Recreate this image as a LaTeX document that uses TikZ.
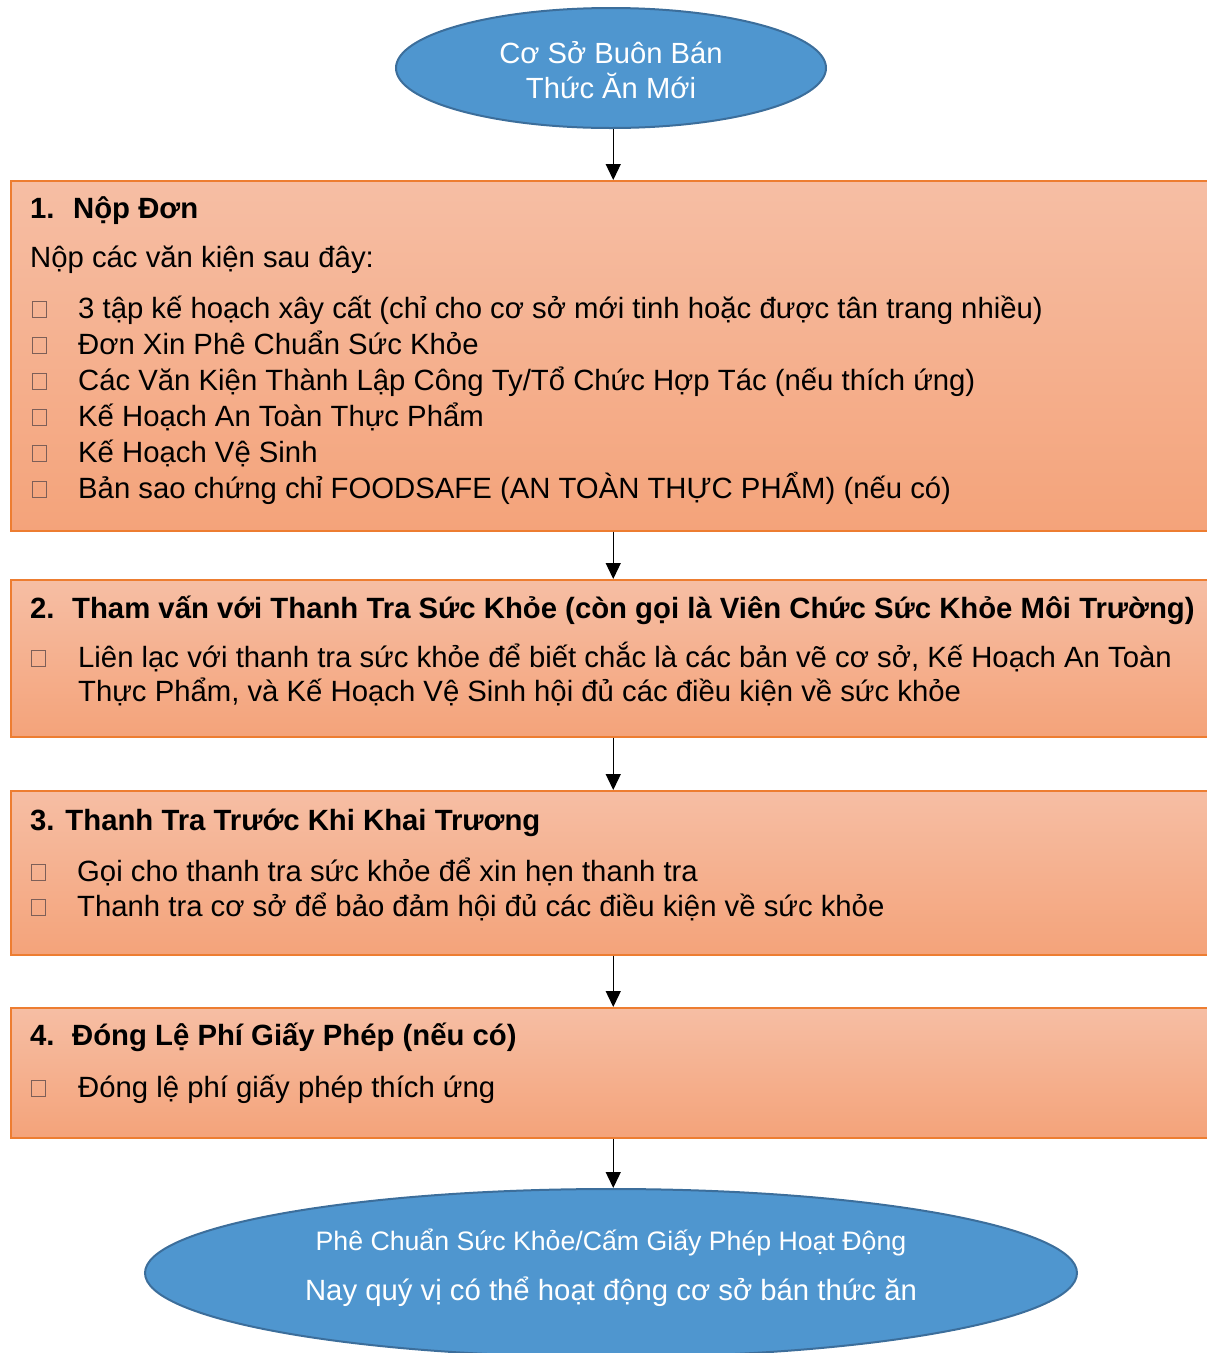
\documentclass[tikz,border=0pt]{standalone}
\usepackage{fontspec}
\setmainfont{Liberation Sans}
\usetikzlibrary{shapes.geometric,arrows.meta}
\definecolor{ellfill}{RGB}{79,150,207}
\definecolor{elldraw}{RGB}{60,110,155}
\definecolor{boxtop}{RGB}{246,190,164}
\definecolor{boxbot}{RGB}{244,163,122}
\definecolor{boxdraw}{RGB}{237,125,49}
\definecolor{bulletc}{RGB}{125,95,88}
\begin{document}
\begin{tikzpicture}[x=1pt,y=-1pt,
  stepbox/.style={rectangle, draw=boxdraw, line width=1.5pt, top color=boxtop, bottom color=boxbot, anchor=north west, inner sep=0, minimum width=1205pt},
  oval/.style={ellipse, draw=elldraw, line width=2pt, fill=ellfill, inner sep=0},
  txt/.style={anchor=base west, inner sep=0, font=\fontsize{29.3}{34}\selectfont},
  head/.style={anchor=base west, inner sep=0, font=\fontsize{29.3}{34}\selectfont\bfseries},
  wtxt/.style={anchor=base, inner sep=0, text=white},
  bul/.style={draw=bulletc, line width=0.9pt, minimum width=14pt, minimum height=16pt, inner sep=0, anchor=south west},
  conn/.style={-{Triangle[length=16pt,width=15pt]}, line width=1.3pt},
]
\clip (0,0) rectangle (1207,1353);
% top ellipse
\node[oval, minimum width=430pt, minimum height=120pt] (start) at (611,68) {};
\node[wtxt, font=\fontsize{29.2}{34}\selectfont] (s1) at (611,63) {Cơ Sở Buôn Bán};
\node[wtxt, font=\fontsize{29.2}{34}\selectfont] (s2) at (611,98) {Thức Ăn Mới};
% boxes
\node[stepbox, minimum height=350pt] (b1) at (10,180) {};
\node[stepbox, minimum height=157pt] (b2) at (10,579) {};
\node[stepbox, minimum height=164pt] (b3) at (10,790) {};
\node[stepbox, minimum height=130pt] (b4) at (10,1007) {};
% bottom ellipse
\node[oval, minimum width=932pt, minimum height=168pt] (fin) at (611,1273) {};
\node[wtxt, font=\fontsize{26.7}{32}\selectfont] (f1) at (611,1250) {Phê Chuẩn Sức Khỏe/Cấm Giấy Phép Hoạt Động};
\node[wtxt, font=\fontsize{29.3}{34}\selectfont] (f2) at (611,1300) {Nay quý vị có thể hoạt động cơ sở bán thức ăn};
% box 1 text
\node[head] (h1) at (30,218) {\makebox[43pt][l]{1.}Nộp Đơn};
\node[txt] (t1) at (30,267) {Nộp các văn kiện sau đây:};
\node[bul] (q11) at (32,318) {};
\node[txt] (t11) at (78,318) {3 tập kế hoạch xây cất (chỉ cho cơ sở mới tinh hoặc được tân trang nhiều)};
\node[bul] (q12) at (32,354) {};
\node[txt] (t12) at (78,354) {Đơn Xin Phê Chuẩn Sức Khỏe};
\node[bul] (q13) at (32,390) {};
\node[txt] (t13) at (78,390) {Các Văn Kiện Thành Lập Công Ty/Tổ Chức Hợp Tác (nếu thích ứng)};
\node[bul] (q14) at (32,426) {};
\node[txt] (t14) at (78,426) {Kế Hoạch An Toàn Thực Phẩm};
\node[bul] (q15) at (32,462) {};
\node[txt] (t15) at (78,462) {Kế Hoạch Vệ Sinh};
\node[bul] (q16) at (32,498) {};
\node[txt] (t16) at (78,498) {Bản sao chứng chỉ FOODSAFE (AN TOÀN THỰC PHẨM) (nếu có)};
% box 2 text
\node[head] (h2) at (30,618) {\makebox[42pt][l]{2.}Tham vấn với Thanh Tra Sức Khỏe (còn gọi là Viên Chức Sức Khỏe Môi Trường)};
\node[bul] (q21) at (31,667) {};
\node[txt] (t21) at (78,667) {Liên lạc với thanh tra sức khỏe để biết chắc là các bản vẽ cơ sở, Kế Hoạch An Toàn};
\node[txt] (t22) at (78,701) {Thực Phẩm, và Kế Hoạch Vệ Sinh hội đủ các điều kiện về sức khỏe};
% box 3 text
\node[head] (h3) at (30,830) {3. Thanh Tra Trước Khi Khai Trương};
\node[bul] (q31) at (31,881) {};
\node[txt] (t31) at (77,881) {Gọi cho thanh tra sức khỏe để xin hẹn thanh tra};
\node[bul] (q32) at (31,916) {};
\node[txt] (t32) at (77,916) {Thanh tra cơ sở để bảo đảm hội đủ các điều kiện về sức khỏe};
% box 4 text
\node[head] (h4) at (30,1045) {\makebox[42pt][l]{4.}Đóng Lệ Phí Giấy Phép (nếu có)};
\node[bul] (q41) at (31,1097) {};
\node[txt] (t41) at (78,1097) {Đóng lệ phí giấy phép thích ứng};
% connectors
\draw[conn] (b1.north |- start.south) -- (b1.north);
\draw[conn] (b1.south) -- (b2.north);
\draw[conn] (b2.south) -- (b3.north);
\draw[conn] (b3.south) -- (b4.north);
\draw[conn] (b4.south) -- (b4.south |- fin.north);
\end{tikzpicture}
\end{document}
